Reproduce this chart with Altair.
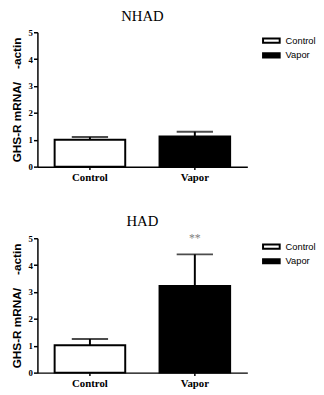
import altair as alt
import pandas as pd

groups = ["Control", "Vapor"]
nhad_mean = [1.0, 1.12]
nhad_upper = [1.1, 1.3]
had_mean = [1.02, 3.22]
had_upper = [1.25, 4.4]
y_ticks = [0, 1, 2, 3, 4, 5]
y_title = "GHS-R mRNA/\u00a0\u00a0\u00a0\u00a0-actin"

SERIF = "Liberation Serif"
SANS = "Liberation Sans"

X_AXIS = alt.Axis(labelAngle=0, labelAlign="center", labelBaseline="top", ticks=True, tickSize=3,
                  tickColor="black", tickWidth=1.5, labelPadding=2,
                  labelFont=SERIF, labelFontWeight="bold", labelFontSize=11,
                  labelColor="black", domainColor="black", domainWidth=1.5)
Y_AXIS = alt.Axis(values=y_ticks, tickSize=4, tickColor="black", tickWidth=1.5,
                  domainColor="black", domainWidth=1.5, grid=False,
                  labelOverlap=False, labelBaseline="middle",
                  labelFont=SERIF, labelFontWeight="bold", labelFontSize=9,
                  labelColor="black", labelPadding=1,
                  titleFont=SANS, titleFontWeight="bold", titleFontSize=12,
                  titleColor="black", titlePadding=5)
X_SCALE = alt.Scale(paddingInner=0.327, paddingOuter=0.164)
Y_SCALE = alt.Scale(domain=[0, 5], nice=False)


def xenc():
    return alt.X("group:N", sort=groups, title=None, scale=X_SCALE, axis=X_AXIS)


def yenc(field):
    return alt.Y(f"{field}:Q", title=y_title, scale=Y_SCALE, axis=Y_AXIS)


def panel(title, means, uppers, star=None):
    df = pd.DataFrame({"group": groups, "mean": means, "upper": uppers})
    color = alt.Color("group:N", sort=groups,
                      scale=alt.Scale(domain=groups, range=["white", "black"]),
                      legend=alt.Legend(title=None, orient="none", legendX=233, legendY=3,
                                        symbolType="M-2,-0.5H2V0.5H-2Z", symbolSize=72,
                                        symbolStrokeColor="black", symbolStrokeWidth=2,
                                        labelFont=SANS, labelFontSize=9.5, labelColor="black",
                                        rowPadding=2, labelOffset=9))
    base = alt.Chart(df)
    bars = base.mark_bar(stroke="black", strokeWidth=2).encode(
        x=xenc(), y=yenc("mean"), color=color)
    err = base.mark_rule(color="black", strokeWidth=2).encode(
        x=xenc(), y=yenc("mean"), y2="upper:Q")
    cap = base.mark_tick(color="black", thickness=2, size=37).encode(
        x=xenc(), y=yenc("upper"))
    layers = [bars, err, cap]
    if star:
        sdf = pd.DataFrame({"group": ["Vapor"], "yv": [5.0], "label": [star]})
        txt = alt.Chart(sdf).mark_text(color="#808080", fontSize=12, font=SERIF, dy=0).encode(
            x=xenc(), y=yenc("yv"), text="label:N")
        layers.append(txt)
    return alt.layer(*layers).properties(
        width=214, height=137,
        title=alt.TitleParams(title, font=SERIF, fontSize=15, fontWeight="normal",
                              color="black", offset=4))


top = panel("NHAD", nhad_mean, nhad_upper)
bottom = panel("HAD", had_mean, had_upper, star="**")

chart = alt.vconcat(top, bottom, spacing=32).resolve_scale(color="independent").properties(
    padding={"left": 2, "top": -2, "right": 0, "bottom": 0}
).configure_view(stroke=None)

chart.save("out.html", embed_options={"renderer": "svg", "actions": False})
